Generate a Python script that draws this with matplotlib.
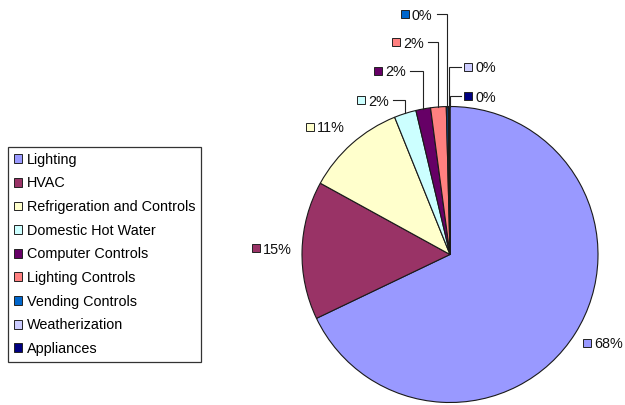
import matplotlib
matplotlib.use("Agg")
import matplotlib.pyplot as plt
from matplotlib.patches import Patch, Rectangle
import numpy as np

plt.rcParams["font.family"] = ["Liberation Sans", "DejaVu Sans"]

# Energy savings share by measure category
categories = ["Lighting", "HVAC", "Refrigeration and Controls", "Domestic Hot Water",
              "Computer Controls", "Lighting Controls", "Vending Controls",
              "Weatherization", "Appliances"]
shares = [67.9, 15.1, 10.9, 2.4, 1.6, 1.7, 0.2, 0.1, 0.1]
colors = ["#9999FF", "#993366", "#FFFFCC", "#CCFFFF", "#660066",
          "#FF8080", "#0066CC", "#CCCCFF", "#000080"]

# Label layout (pixel positions measured from the top-left; leader side)
label_pos = [(583, 343), (252, 248), (306, 127), (357, 100), (374, 71),
             (392, 42), (401, 14), (464, 67), (464, 96)]
leader_side = [None, None, None, "left", "left", "left", "left", "right", "right"]

W, H = 625, 405
fig = plt.figure(figsize=(W / 100, H / 100), dpi=100)
ax = fig.add_axes([0, 0, 1, 1])

cx, cy, R = 450, H - 254.5, 148
wedges, _ = ax.pie(shares, colors=colors, startangle=90, counterclock=False,
                   center=(cx, cy), radius=R,
                   wedgeprops=dict(edgecolor="#1a1a1a", linewidth=0.8))
ax.set_xlim(0, W)
ax.set_ylim(0, H)
ax.set_aspect("equal")
ax.axis("off")

FS = 10.4
SQ = 8
texts = []
for (px, py), v, c in zip(label_pos, shares, colors):
    y = H - py
    ax.add_patch(Rectangle((px, y - SQ / 2), SQ, SQ, facecolor=c,
                           edgecolor="#222222", linewidth=0.7, zorder=5))
    t = ax.text(px + SQ + 3, y, f"{round(v):.0f}%", fontsize=FS,
                va="center_baseline", ha="left", color="#111111", zorder=5)
    texts.append(t)

fig.canvas.draw()
renderer = fig.canvas.get_renderer()
inv = ax.transData.inverted()
for w, t, (px, py), side in zip(wedges, texts, label_pos, leader_side):
    if side is None:
        continue
    mid = np.deg2rad((w.theta1 + w.theta2) / 2)
    xa = cx + R * np.cos(mid)
    ya = cy + R * np.sin(mid)
    y = H - py
    if side == "left":
        bb = t.get_window_extent(renderer)
        x0 = inv.transform((bb.x1, 0))[0] + 4
    else:
        x0 = px - 3
    ax.plot([x0, xa, xa], [y, y, ya], color="#222222", linewidth=0.8,
            solid_joinstyle="miter", zorder=4)

handles = [Patch(facecolor=c, edgecolor="#222222", linewidth=0.7) for c in colors]
leg = ax.legend(handles, categories, loc="upper left",
                bbox_to_anchor=(8 / W, 1 - 147 / H), borderaxespad=0,
                frameon=True, fancybox=False, edgecolor="#333333", framealpha=1,
                fontsize=FS, handlelength=0.56, handleheight=0.56,
                handletextpad=0.35, labelspacing=0.667, borderpad=0.4)
leg.get_frame().set_linewidth(0.9)

fig.savefig("out.png", dpi=100, facecolor="white")
